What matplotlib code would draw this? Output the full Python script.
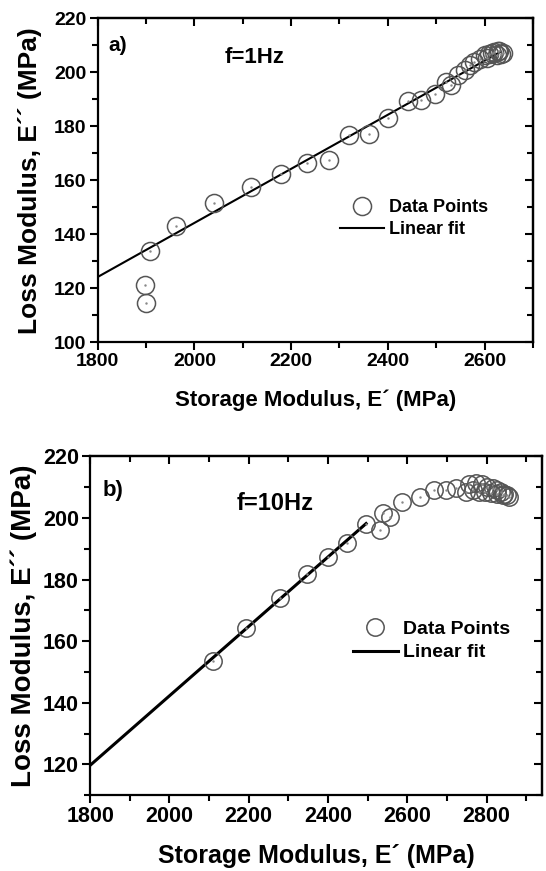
import matplotlib.pyplot as plt
from matplotlib.ticker import MultipleLocator

plt.rcParams['font.family'] = ['Liberation Sans', 'DejaVu Sans']
plt.rcParams['font.weight'] = 'bold'

# Panel a) f=1Hz, storage vs loss modulus (MPa)
e1_storage = [1897, 1899, 1909, 1962, 2040, 2117, 2178, 2233, 2278, 2320, 2362,
              2401, 2441, 2469, 2498, 2521, 2531, 2545, 2559, 2569, 2579, 2590,
              2600, 2605, 2610, 2615, 2620, 2625, 2627, 2630, 2634, 2638]
e1_loss = [121.1, 114.6, 133.8, 143.0, 151.6, 157.5, 162.5, 166.5, 167.4, 176.7, 177.0,
           183.2, 189.3, 189.6, 192.0, 196.4, 195.2, 198.9, 200.7, 202.6, 203.8, 205.0,
           206.3, 205.2, 206.9, 207.2, 207.5, 206.4, 207.9, 208.0, 206.9, 207.3]
fit1_x = [1800, 2632]
fit1_y = [124.2, 207.5]

# Panel b) f=10Hz
e10_storage = [2110, 2194, 2278, 2347, 2400, 2447, 2496, 2530, 2538, 2556, 2587,
               2632, 2668, 2697, 2722, 2748, 2756, 2773, 2789, 2802, 2815, 2827,
               2836, 2844, 2852, 2857, 2765, 2780, 2795, 2810, 2825, 2840]
e10_loss = [153.6, 164.3, 173.9, 181.8, 187.4, 191.9, 198.2, 196.0, 201.5, 200.4, 205.2,
            206.8, 209.0, 209.2, 209.6, 208.5, 211.2, 211.4, 211.2, 210.1, 209.6, 209.0,
            208.5, 207.9, 207.4, 206.8, 209.0, 208.6, 208.3, 208.0, 207.8, 207.5]
fit10_x = [1800, 2496]
fit10_y = [119.7, 198.2]

fig = plt.figure(figsize=(5.46, 8.71), dpi=100)
ax1 = fig.add_axes([0.179, 0.607, 0.797, 0.372])
ax2 = fig.add_axes([0.165, 0.087, 0.828, 0.389])


def style_axes(ax, xlim, ylim, tick_fs, label_fs, ylabel_fs, ymajor):
    ax.set_xlim(*xlim)
    ax.set_ylim(*ylim)
    ax.xaxis.set_major_locator(MultipleLocator(200))
    ax.xaxis.set_minor_locator(MultipleLocator(100))
    ax.yaxis.set_major_locator(MultipleLocator(ymajor))
    ax.yaxis.set_minor_locator(MultipleLocator(10))
    ax.tick_params(which='both', direction='out', width=1.5, labelsize=tick_fs, pad=2)
    ax.tick_params(which='major', length=6)
    ax.tick_params(which='minor', length=4)
    for s in ax.spines.values():
        s.set_linewidth(1.6)
    top = ax.secondary_xaxis('top')
    top.xaxis.set_major_locator(MultipleLocator(200))
    top.xaxis.set_minor_locator(MultipleLocator(100))
    right = ax.secondary_yaxis('right')
    right.yaxis.set_major_locator(MultipleLocator(ymajor))
    right.yaxis.set_minor_locator(MultipleLocator(10))
    for sec in (top, right):
        sec.tick_params(which='both', direction='in', width=1.5,
                        labeltop=False, labelright=False)
        sec.tick_params(which='major', length=6)
        sec.tick_params(which='minor', length=4)
        for s in sec.spines.values():
            s.set_linewidth(1.6)
    ax.set_xlabel('Storage Modulus, E\u00b4 (MPa)', fontsize=label_fs, fontweight='bold')
    ax.set_ylabel('Loss Modulus, E\u00b4\u00b4 (MPa)', fontsize=ylabel_fs, fontweight='bold')


# panel a
ax1.plot(fit1_x, fit1_y, color='black', lw=1.5, label='Linear fit', zorder=2)
ax1.plot(e1_storage, e1_loss, 'o', ms=13, mfc='none', mec='#555555', mew=1.1,
         label='Data Points', zorder=3)
ax1.plot(e1_storage, e1_loss, '.', ms=1.5, color='#888888', zorder=3)
style_axes(ax1, (1800, 2700), (100, 220), 14, 16, 19, 20)
ax1.xaxis.labelpad = 14
ax1.yaxis.labelpad = 9
ax1.text(0.045, 0.915, 'a)', transform=ax1.transAxes, fontsize=15, fontweight='bold',
         ha='center', va='center')
ax1.text(0.36, 0.878, 'f=1Hz', transform=ax1.transAxes, fontsize=16, fontweight='bold',
         ha='center', va='center')
h, l = ax1.get_legend_handles_labels()
ax1.legend(h[::-1], l[::-1], loc='upper left', bbox_to_anchor=(0.535, 0.47),
           frameon=False, fontsize=13, handlelength=2.45, handletextpad=0.3,
           labelspacing=0.3, borderpad=0)

# panel b
ax2.plot(fit10_x, fit10_y, color='black', lw=2.2, label='Linear fit', zorder=2)
ax2.plot(e10_storage, e10_loss, 'o', ms=12.5, mfc='none', mec='#555555', mew=1.1,
         label='Data Points', zorder=3)
ax2.plot(e10_storage, e10_loss, '.', ms=1.5, color='#888888', zorder=3)
style_axes(ax2, (1800, 2940), (110, 220), 15.5, 18, 20, 20)
ax2.xaxis.labelpad = 12
ax2.yaxis.labelpad = 4
ax2.text(0.05, 0.9, 'b)', transform=ax2.transAxes, fontsize=16, fontweight='bold',
         ha='center', va='center')
ax2.text(0.41, 0.86, 'f=10Hz', transform=ax2.transAxes, fontsize=17, fontweight='bold',
         ha='center', va='center')
h, l = ax2.get_legend_handles_labels()
ax2.legend(h[::-1], l[::-1], loc='upper left', bbox_to_anchor=(0.56, 0.545),
           frameon=False, fontsize=14, handlelength=2.3, handletextpad=0.25,
           labelspacing=0.3, borderpad=0)

fig.savefig('out.png', dpi=100)
